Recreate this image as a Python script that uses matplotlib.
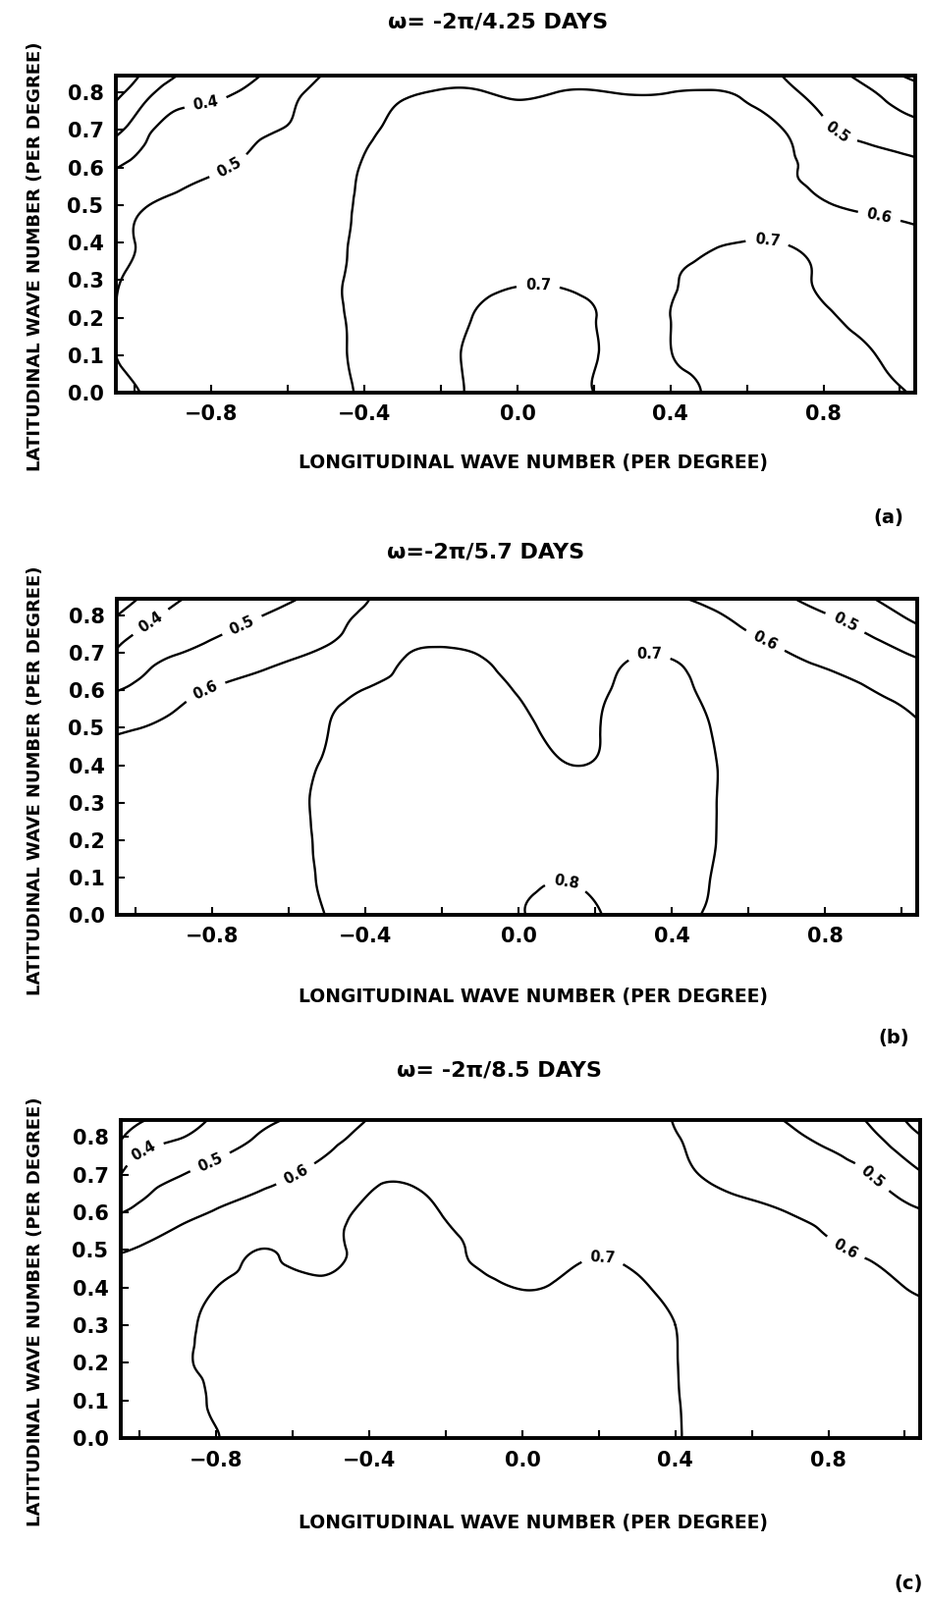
import numpy as np
import matplotlib
matplotlib.use("Agg")
import matplotlib.pyplot as plt
import matplotlib.tri as mtri

# grid nodes (per degree)
lon = [-1.1, -1.0, -0.9, -0.8, -0.7, -0.6, -0.5, -0.4, -0.3, -0.2, -0.1, 0.0,
       0.1, 0.2, 0.3, 0.4, 0.5, 0.6, 0.7, 0.8, 0.9, 1.0, 1.1]
lat = [0.0, 0.1, 0.2, 0.3, 0.4, 0.5, 0.6, 0.7, 0.8, 0.9]

# (a) w = -2pi/4.25 days, rows = lat
z_a = [
    [0.475, 0.497, 0.52, 0.54, 0.56, 0.575, 0.59, 0.605, 0.635, 0.68, 0.71, 0.725, 0.72, 0.70, 0.67, 0.68, 0.705, 0.72, 0.725, 0.72, 0.71, 0.702, 0.69],
    [0.487, 0.51, 0.525, 0.545, 0.56, 0.575, 0.59, 0.61, 0.64, 0.68, 0.715, 0.73, 0.725, 0.705, 0.675, 0.698, 0.715, 0.725, 0.725, 0.715, 0.705, 0.69, 0.675],
    [0.485, 0.512, 0.527, 0.545, 0.56, 0.575, 0.59, 0.612, 0.64, 0.675, 0.705, 0.72, 0.718, 0.702, 0.68, 0.70, 0.715, 0.72, 0.715, 0.705, 0.692, 0.68, 0.665],
    [0.48, 0.509, 0.525, 0.54, 0.555, 0.57, 0.59, 0.612, 0.635, 0.665, 0.685, 0.695, 0.695, 0.685, 0.675, 0.695, 0.71, 0.715, 0.71, 0.695, 0.68, 0.665, 0.65],
    [0.47, 0.50, 0.52, 0.535, 0.55, 0.565, 0.585, 0.61, 0.63, 0.65, 0.665, 0.67, 0.67, 0.668, 0.67, 0.68, 0.693, 0.702, 0.698, 0.675, 0.655, 0.635, 0.615],
    [0.455, 0.49, 0.515, 0.53, 0.545, 0.56, 0.58, 0.608, 0.625, 0.64, 0.65, 0.655, 0.655, 0.655, 0.658, 0.66, 0.66, 0.648, 0.63, 0.606, 0.588, 0.575, 0.56],
    [0.36, 0.425, 0.46, 0.49, 0.51, 0.53, 0.56, 0.605, 0.62, 0.63, 0.635, 0.635, 0.638, 0.64, 0.64, 0.64, 0.635, 0.625, 0.608, 0.585, 0.56, 0.53, 0.51],
    [0.22, 0.34, 0.44, 0.45, 0.48, 0.505, 0.54, 0.585, 0.615, 0.625, 0.628, 0.625, 0.628, 0.632, 0.632, 0.63, 0.625, 0.615, 0.598, 0.52, 0.47, 0.44, 0.42],
    [0.12, 0.235, 0.345, 0.375, 0.42, 0.475, 0.53, 0.565, 0.59, 0.605, 0.604, 0.59, 0.60, 0.604, 0.596, 0.60, 0.605, 0.585, 0.525, 0.47, 0.42, 0.36, 0.31],
    [0.02, 0.147, 0.26, 0.31, 0.345, 0.41, 0.48, 0.50, 0.515, 0.52, 0.52, 0.53, 0.525, 0.52, 0.52, 0.51, 0.50, 0.50, 0.47, 0.41, 0.31, 0.21, 0.16],
]

# (b) w = -2pi/5.7 days
z_b = [
    [0.64, 0.645, 0.655, 0.665, 0.675, 0.688, 0.701, 0.72, 0.745, 0.77, 0.79, 0.798, 0.81, 0.803, 0.78, 0.74, 0.69, 0.675, 0.668, 0.66, 0.655, 0.65, 0.645],
    [0.64, 0.645, 0.655, 0.665, 0.675, 0.69, 0.705, 0.725, 0.745, 0.765, 0.78, 0.79, 0.798, 0.79, 0.77, 0.74, 0.70, 0.675, 0.665, 0.66, 0.655, 0.65, 0.645],
    [0.635, 0.64, 0.65, 0.66, 0.672, 0.688, 0.708, 0.725, 0.74, 0.755, 0.765, 0.77, 0.772, 0.77, 0.76, 0.74, 0.705, 0.68, 0.665, 0.658, 0.652, 0.648, 0.643],
    [0.63, 0.635, 0.645, 0.655, 0.67, 0.688, 0.71, 0.725, 0.735, 0.742, 0.748, 0.75, 0.748, 0.745, 0.745, 0.735, 0.705, 0.68, 0.665, 0.657, 0.65, 0.645, 0.64],
    [0.62, 0.627, 0.637, 0.65, 0.665, 0.685, 0.705, 0.722, 0.73, 0.733, 0.73, 0.722, 0.705, 0.703, 0.725, 0.728, 0.705, 0.678, 0.66, 0.652, 0.645, 0.635, 0.625],
    [0.585, 0.598, 0.615, 0.635, 0.655, 0.675, 0.699, 0.718, 0.725, 0.725, 0.718, 0.708, 0.692, 0.697, 0.72, 0.723, 0.70, 0.672, 0.652, 0.64, 0.628, 0.612, 0.595],
    [0.48, 0.52, 0.57, 0.605, 0.63, 0.655, 0.678, 0.702, 0.715, 0.718, 0.71, 0.698, 0.685, 0.692, 0.712, 0.712, 0.69, 0.665, 0.645, 0.625, 0.605, 0.585, 0.565],
    [0.36, 0.45, 0.495, 0.525, 0.555, 0.585, 0.61, 0.645, 0.695, 0.708, 0.697, 0.675, 0.66, 0.672, 0.695, 0.693, 0.67, 0.635, 0.602, 0.575, 0.55, 0.505, 0.46],
    [0.24, 0.35, 0.42, 0.46, 0.49, 0.525, 0.57, 0.61, 0.635, 0.65, 0.65, 0.645, 0.64, 0.635, 0.63, 0.625, 0.61, 0.575, 0.535, 0.505, 0.46, 0.40, 0.35],
    [0.04, 0.217, 0.353, 0.371, 0.412, 0.436, 0.503, 0.599, 0.613, 0.617, 0.617, 0.611, 0.607, 0.602, 0.597, 0.584, 0.577, 0.542, 0.475, 0.427, 0.36, 0.311, 0.261],
]

# (c) w = -2pi/8.5 days
z_c = [
    [0.66, 0.67, 0.685, 0.699, 0.71, 0.72, 0.728, 0.735, 0.74, 0.742, 0.742, 0.74, 0.735, 0.728, 0.717, 0.703, 0.685, 0.672, 0.665, 0.658, 0.652, 0.645, 0.64],
    [0.655, 0.665, 0.68, 0.706, 0.715, 0.722, 0.728, 0.734, 0.738, 0.74, 0.74, 0.738, 0.733, 0.726, 0.716, 0.702, 0.685, 0.672, 0.664, 0.657, 0.65, 0.643, 0.637],
    [0.65, 0.66, 0.69, 0.708, 0.716, 0.72, 0.725, 0.73, 0.733, 0.734, 0.733, 0.73, 0.727, 0.72, 0.712, 0.701, 0.684, 0.67, 0.66, 0.652, 0.645, 0.637, 0.63],
    [0.645, 0.655, 0.688, 0.707, 0.714, 0.717, 0.72, 0.722, 0.725, 0.725, 0.722, 0.72, 0.717, 0.712, 0.708, 0.70, 0.683, 0.668, 0.657, 0.648, 0.638, 0.628, 0.618],
    [0.635, 0.645, 0.668, 0.70, 0.708, 0.709, 0.709, 0.715, 0.716, 0.712, 0.706, 0.699, 0.703, 0.706, 0.704, 0.69, 0.675, 0.66, 0.648, 0.636, 0.622, 0.60, 0.585],
    [0.59, 0.605, 0.63, 0.66, 0.699, 0.689, 0.691, 0.712, 0.712, 0.706, 0.694, 0.69, 0.694, 0.698, 0.692, 0.68, 0.665, 0.65, 0.636, 0.61, 0.592, 0.575, 0.555],
    [0.47, 0.525, 0.575, 0.605, 0.635, 0.66, 0.68, 0.712, 0.715, 0.697, 0.68, 0.672, 0.672, 0.675, 0.668, 0.655, 0.635, 0.618, 0.598, 0.575, 0.55, 0.52, 0.49],
    [0.33, 0.45, 0.495, 0.535, 0.565, 0.598, 0.63, 0.68, 0.69, 0.68, 0.66, 0.65, 0.645, 0.64, 0.632, 0.615, 0.59, 0.568, 0.55, 0.53, 0.505, 0.44, 0.37],
    [0.20, 0.35, 0.395, 0.445, 0.50, 0.545, 0.585, 0.615, 0.63, 0.635, 0.632, 0.628, 0.625, 0.62, 0.612, 0.602, 0.575, 0.545, 0.515, 0.48, 0.43, 0.34, 0.27],
    [0.026, 0.165, 0.297, 0.38, 0.413, 0.465, 0.541, 0.593, 0.608, 0.613, 0.617, 0.611, 0.608, 0.603, 0.597, 0.598, 0.553, 0.502, 0.45, 0.393, 0.365, 0.231, 0.118],
]

levels = [0.2, 0.3, 0.4, 0.5, 0.6, 0.7, 0.8]
titles = ["ω= -2π/4.25 DAYS", "ω=-2π/5.7 DAYS", "ω= -2π/8.5 DAYS"]
tags = ["(a)", "(b)", "(c)"]
xtick_vals = [-1.0, -0.8, -0.6, -0.4, -0.2, 0.0, 0.2, 0.4, 0.6, 0.8, 1.0]
xtick_txt = ["", "−0.8", "", "−0.4", "", "0.0", "", "0.4", "", "0.8", ""]
ytick_vals = [0.0, 0.1, 0.2, 0.3, 0.4, 0.5, 0.6, 0.7, 0.8]

# where the contour labels sit (data coords)
label_pts = [
    [(-0.815, 0.77), (-0.754, 0.60), (0.054, 0.284), (0.654, 0.414), (0.84, 0.70), (0.946, 0.47)],
    [(-0.96, 0.78), (-0.72, 0.767), (-0.82, 0.60), (0.34, 0.69), (0.12, 0.07), (0.64, 0.726), (0.846, 0.77)],
    [(-0.977, 0.736), (-0.82, 0.74), (-0.59, 0.695), (0.21, 0.49), (0.846, 0.507), (0.908, 0.686)],
]

# layout in pixels of the 945x1630 page
W, H = 945.0, 1630.0
boxes = [(118, 77, 932, 400), (119, 610, 934, 932), (123, 1141, 937, 1465)]
title_xy = [(507, 22), (495, 562), (508, 1091)]
xlab_y = [472, 1016, 1552]
ylab_y = [261, 795, 1336]
tag_xy = [(905, 527), (910, 1058), (925, 1613)]

plt.rcParams['font.family'] = 'DejaVu Sans'
plt.rcParams['font.weight'] = 'bold'

fig = plt.figure(figsize=(W / 100, H / 100), dpi=100)

X, Y = np.meshgrid(lon, lat)
tri = mtri.Triangulation(X.ravel(), Y.ravel())
refiner = mtri.UniformTriRefiner(tri)

for i, z in enumerate([z_a, z_b, z_c]):
    x0, y0, x1, y1 = boxes[i]
    ax = fig.add_axes([x0 / W, 1 - y1 / H, (x1 - x0) / W, (y1 - y0) / H])
    zz = np.array(z).ravel()
    interp = mtri.CubicTriInterpolator(tri, zz, kind='min_E')
    tri_r, z_r = refiner.refine_field(zz, triinterpolator=interp, subdiv=4)
    cs = ax.tricontour(tri_r, z_r, levels=levels, colors='k', linewidths=1.7)
    ax.clabel(cs, fmt='%.1f', fontsize=10.5, manual=label_pts[i], inline=True, inline_spacing=8)

    ax.set_xlim(-1.05, 1.04)
    ax.set_ylim(0, 0.845)
    ax.set_xticks(xtick_vals)
    ax.set_xticklabels(xtick_txt)
    ax.set_yticks(ytick_vals)
    ax.set_yticklabels(["%.1f" % v for v in ytick_vals])
    ax.tick_params(direction='in', length=6, width=1.5, labelsize=15, pad=9)
    for sp in ax.spines.values():
        sp.set_linewidth(2.8)

    fig.text(title_xy[i][0] / W, 1 - title_xy[i][1] / H, titles[i], ha='center', va='center',
             fontsize=16)
    fig.text(543 / W, 1 - xlab_y[i] / H, "LONGITUDINAL WAVE NUMBER (PER DEGREE)",
             ha='center', va='center', fontsize=13.5)
    fig.text(36 / W, 1 - ylab_y[i] / H, "LATITUDINAL WAVE NUMBER (PER DEGREE)",
             ha='center', va='center', fontsize=13, rotation=90)
    fig.text(tag_xy[i][0] / W, 1 - tag_xy[i][1] / H, tags[i], ha='center', va='center', fontsize=14)

fig.savefig("out.png", dpi=100, facecolor='white')
